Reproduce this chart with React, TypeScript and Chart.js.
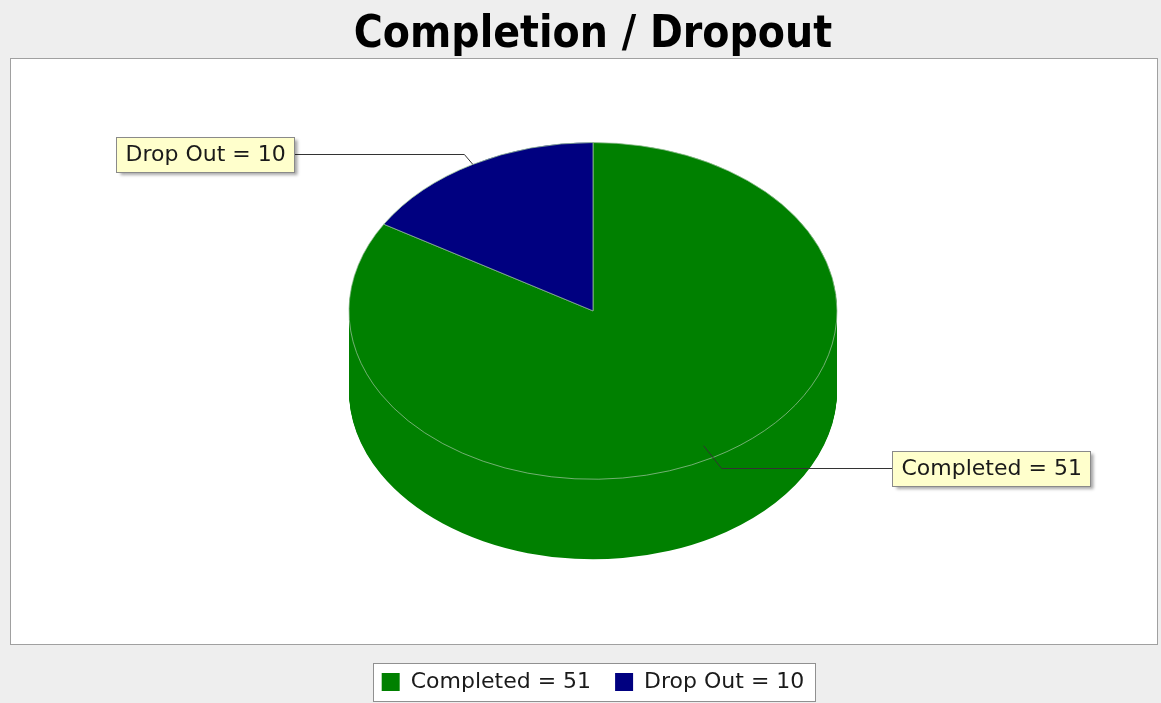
import React, { useEffect, useRef } from "react";
import { Chart, registerables } from "chart.js";

Chart.register(...registerables);

// ---- data ----
const categories: string[] = ["Completed", "Drop Out"];
const values: number[] = [51, 10];
const sliceColors: string[] = ["#008000", "#000080"];
const chartTitle = "Completion / Dropout";

// ---- 3D look ----
const PIE_RADIUS = 244;
const SQUASH = 0.69;
const DEPTH = 80;
const LIFT = DEPTH / 2 + 2;

const labelText = (i: number) => `${categories[i]} = ${values[i]}`;

function pieTransform(ctx: CanvasRenderingContext2D, cy: number, shift: number) {
  ctx.translate(0, cy - LIFT + shift);
  ctx.scale(1, SQUASH);
  ctx.translate(0, -cy);
}

const pie3d = {
  id: "pie3d",
  beforeDraw(chart: any) {
    const { ctx, chartArea, width } = chart;
    ctx.save();
    ctx.fillStyle = "#eeeeee";
    ctx.fillRect(0, 0, chart.width, chart.height);
    // plot background
    const l = 10.5;
    const r = width - 3.5;
    const t = Math.round(chartArea.top) - 0.5;
    const b = Math.round(chartArea.bottom) - 2.5;
    ctx.fillStyle = "#ffffff";
    ctx.fillRect(l, t, r - l, b - t);
    ctx.strokeStyle = "#a0a0a0";
    ctx.lineWidth = 1;
    ctx.strokeRect(l, t, r - l, b - t);
    // legend frame
    const lg = chart.legend;
    if (lg && lg.legendHitBoxes && lg.legendHitBoxes.length) {
      const hb = lg.legendHitBoxes;
      const first = hb[0];
      const last = hb[hb.length - 1];
      const fx = Math.round(first.left - 9) + 0.5;
      const fr = Math.round(last.left + last.width + 11) + 0.5;
      const ft = Math.round(first.top - 8) + 0.5;
      const fb = Math.round(first.top + first.height + 8) + 0.5;
      ctx.fillStyle = "#ffffff";
      ctx.fillRect(fx, ft, fr - fx, fb - ft);
      ctx.strokeStyle = "#909090";
      ctx.strokeRect(fx, ft, fr - fx, fb - ft);
    }
    ctx.restore();
  },
  beforeDatasetDraw(chart: any, args: any) {
    const { ctx } = chart;
    const meta = args.meta;
    if (!meta.data.length) return;
    const cy = meta.data[0].y;
    for (let k = DEPTH; k >= 1; k--) {
      ctx.save();
      pieTransform(ctx, cy, k);
      meta.data.forEach((el: any) => {
        const o = el.options;
        el.options = Object.assign({}, o, { borderWidth: 0 });
        el.draw(ctx);
        el.options = o;
      });
      ctx.restore();
    }
    ctx.save();
    pieTransform(ctx, cy, 0);
  },
  afterDatasetDraw(chart: any) {
    chart.ctx.restore();
  },
  afterDraw(chart: any) {
    const { ctx } = chart;
    const meta = chart.getDatasetMeta(0);
    ctx.save();
    ctx.font = "22px 'DejaVu Sans', sans-serif";
    ctx.textBaseline = "middle";
    meta.data.forEach((el: any, i: number) => {
      const { x, y, startAngle, endAngle, outerRadius } = el.getProps(
        ["x", "y", "startAngle", "endAngle", "outerRadius"],
        true
      );
      const a = (startAngle + endAngle) / 2;
      const cy = y - LIFT;
      const front = Math.sin(a) > 0;
      const f = front ? 0.92 : 1.0;
      const ax = x + Math.cos(a) * outerRadius * f;
      const ay = cy + Math.sin(a) * outerRadius * f * SQUASH;
      const ex = x + Math.cos(a) * outerRadius * 1.07;
      const ey = Math.round(cy + Math.sin(a) * outerRadius * 1.07 * SQUASH) + 0.5;
      const right = Math.cos(a) >= 0;
      const txt = labelText(i);
      const tw = ctx.measureText(txt).width;
      const bw = Math.round(tw + 18);
      const bh = 35;
      const bx = right ? Math.round(x + outerRadius + 55) + 0.5 : Math.round(x - outerRadius - 55 - bw) + 0.5;
      const by = Math.round(ey - bh / 2);
      // leader
      ctx.strokeStyle = "#333333";
      ctx.lineWidth = 1;
      ctx.beginPath();
      ctx.moveTo(ax, ay);
      ctx.lineTo(ex, ey);
      ctx.lineTo(right ? bx : bx + bw, ey);
      ctx.stroke();
      // box
      ctx.save();
      ctx.shadowColor = "rgba(0,0,0,0.35)";
      ctx.shadowOffsetX = 3;
      ctx.shadowOffsetY = 3;
      ctx.shadowBlur = 3;
      ctx.fillStyle = "#ffffcc";
      ctx.fillRect(bx, by, bw, bh);
      ctx.restore();
      ctx.strokeStyle = "#8a8a8a";
      ctx.strokeRect(bx, by + 0.5, bw, bh);
      ctx.fillStyle = "#1a1a1a";
      ctx.textAlign = "left";
      ctx.fillText(txt, bx + 9, by + bh / 2 + 1);
    });
    ctx.restore();
  },
};

export default function App() {
  const canvasRef = useRef<HTMLCanvasElement | null>(null);

  useEffect(() => {
    const canvas = canvasRef.current;
    if (!canvas) return;
    const chart = new Chart(canvas, {
      type: "pie",
      data: {
        labels: categories,
        datasets: [
          {
            data: values,
            backgroundColor: sliceColors,
            borderColor: "rgba(150,190,150,0.9)",
            borderWidth: 1,
            radius: PIE_RADIUS,
          } as any,
        ],
      },
      options: {
        responsive: false,
        animation: false,
        events: [],
        devicePixelRatio: 1,
        layout: { padding: { left: 25, right: 0, top: 0, bottom: 0 } },
        plugins: {
          title: {
            display: true,
            text: chartTitle,
            color: "#000000",
            font: { family: "'DejaVu Sans Condensed', 'DejaVu Sans', sans-serif", size: 44, weight: "bold" },
            padding: { top: 9, bottom: -3 },
          },
          legend: {
            display: true,
            position: "bottom",
            labels: {
              boxWidth: 18,
              boxHeight: 18,
              padding: 24,
              color: "#1a1a1a",
              font: { family: "'DejaVu Sans', sans-serif", size: 22 },
              generateLabels: () =>
                categories.map((c, i) => ({
                  text: labelText(i),
                  fillStyle: sliceColors[i],
                  strokeStyle: sliceColors[i],
                  lineWidth: 0,
                  hidden: false,
                  index: i,
                  fontColor: "#1a1a1a",
                })),
            },
          },
          tooltip: { enabled: false },
        },
      },
      plugins: [pie3d],
    } as any);
    return () => chart.destroy();
  }, []);

  return (
    <div style={{ position: "fixed", left: 0, top: 0, width: 1161, height: 703, background: "#eeeeee" }}>
      <canvas ref={canvasRef} width={1161} height={703} style={{ display: "block" }} />
    </div>
  );
}
